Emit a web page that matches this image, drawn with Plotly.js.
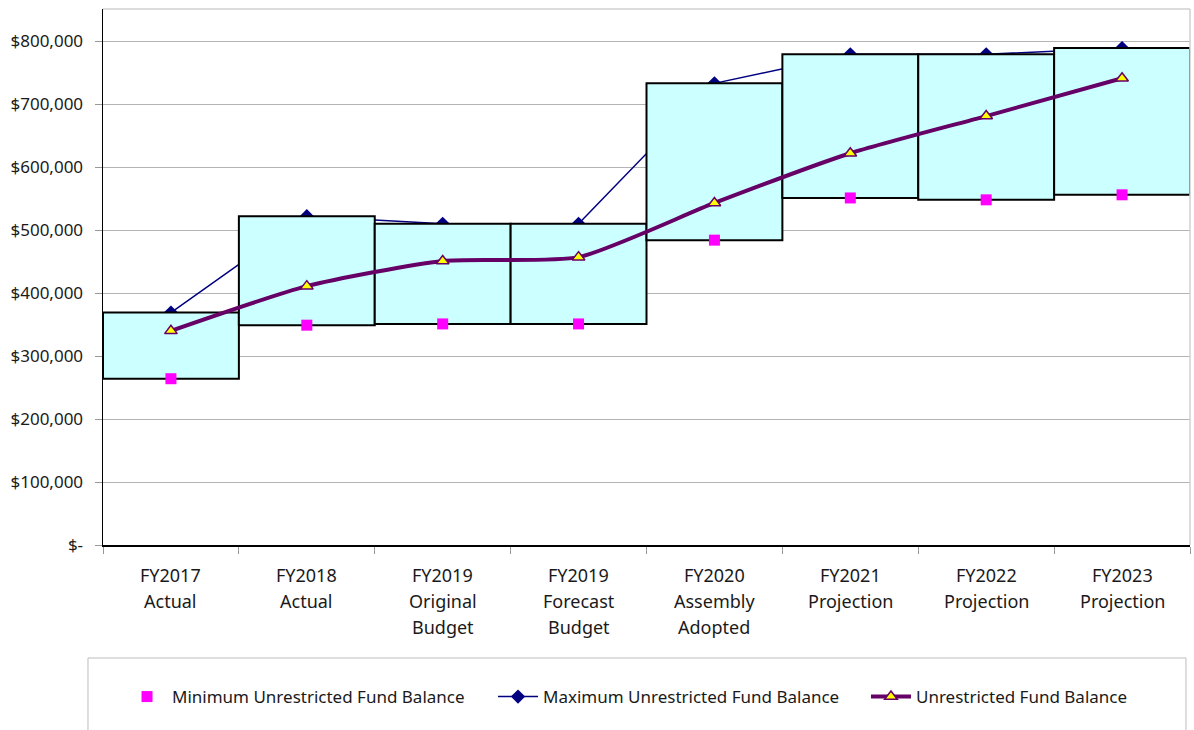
<!DOCTYPE html>
<html>
<head>
<meta charset="utf-8">
<script src="https://cdn.plot.ly/plotly-3.0.1.min.js"></script>
<style>html,body{margin:0;padding:0;background:#fff;}#chart{width:1194px;height:730px;}</style>
</head>
<body>
<div id="chart"></div>
<script>
const categories = ["FY2017<br>Actual","FY2018<br>Actual","FY2019<br>Original<br>Budget","FY2019<br>Forecast<br>Budget","FY2020<br>Assembly<br>Adopted","FY2021<br>Projection","FY2022<br>Projection","FY2023<br>Projection"];
const minBalance = [264000, 349000, 351000, 351000, 484000, 551000, 548000, 556000];
const maxBalance = [369000, 522000, 510000, 510000, 733000, 779000, 779000, 789000];
const fundBalance = [340000, 411000, 451000, 457000, 543000, 622000, 681000, 741000];
const yTickVals = [0,100000,200000,300000,400000,500000,600000,700000,800000];
const yTickText = ["$-","$100,000","$200,000","$300,000","$400,000","$500,000","$600,000","$700,000","$800,000"];

const boxHeights = maxBalance.map((v,i)=>v-minBalance[i]);
const font = "Noto Sans, Open Sans, sans-serif";

const data = [
  {type:'scatter', mode:'lines+markers', name:'Maximum Unrestricted Fund Balance', x:categories, y:maxBalance,
   xaxis:'x', yaxis:'y', legend:'legend2', line:{color:'#000080', width:1.5}, marker:{symbol:'diamond', size:11, color:'#000080'}},
  {type:'bar', x:categories, y:boxHeights, base:minBalance, xaxis:'x', yaxis:'y2', width:1, showlegend:false,
   marker:{color:'#CCFFFF', line:{color:'#000000', width:2}}, hoverinfo:'skip'},
  {type:'scatter', mode:'markers', name:'Minimum Unrestricted Fund Balance', x:categories, y:minBalance,
   xaxis:'x', yaxis:'y2', legend:'legend', marker:{symbol:'square', size:11, color:'#FF00FF'}},
  {type:'scatter', mode:'lines+markers', name:'Unrestricted Fund Balance', x:categories, y:fundBalance,
   xaxis:'x', yaxis:'y2', legend:'legend3', line:{color:'#660066', width:4, shape:'spline', smoothing:0.6},
   marker:{symbol:'triangle-up', size:11, color:'#FFFF00', line:{color:'#660066', width:1.5}}}
];

// category labels drawn line by line (Excel-like line spacing)
const labelShifts = [-30, -56, -82];
const annotations = [];
categories.forEach(function(c){
  c.split('<br>').forEach(function(line, j){
    annotations.push({xref:'x', yref:'paper', x:c, y:0, yanchor:'middle', xanchor:'center', yshift:labelShifts[j],
      text:line, showarrow:false, font:{family:font, size:18, color:'#1a1a1a'}});
  });
});

function legendAt(x){
  return {orientation:'h', x:x, xanchor:'left', y:-0.2836, yanchor:'middle', itemwidth:40,
          font:{family:font, size:17, color:'#1a1a1a'}, bgcolor:'rgba(0,0,0,0)', borderwidth:0};
}

const yrange = [0, 851000];
const layout = {
  width:1194, height:730,
  margin:{l:103, r:4, t:9, b:185},
  paper_bgcolor:'#fff', plot_bgcolor:'#fff',
  font:{family:font, size:17, color:'#1a1a1a'},
  showlegend:true,
  legend:legendAt(0.0175),
  legend2:legendAt(0.3588),
  legend3:legendAt(0.7019),
  xaxis:{type:'category', range:[-0.5,7.5], showgrid:false, showline:true, linecolor:'#000', linewidth:1.5,
         ticks:'outside', tickson:'boundaries', ticklen:7, tickcolor:'#999', tickwidth:1,
         showticklabels:false, zeroline:false},
  yaxis:{range:yrange, tickvals:yTickVals, ticktext:yTickText, showgrid:true, gridcolor:'#B4B4B4', gridwidth:1,
         showline:true, linecolor:'#000', linewidth:1.5, ticks:'outside', ticklen:7, tickcolor:'#999',
         ticklabelstandoff:8,
         tickfont:{family:font, size:17, color:'#1a1a1a'}, zeroline:false, fixedrange:true},
  yaxis2:{range:yrange, overlaying:'y', visible:false, showgrid:false, zeroline:false},
  bargap:0,
  annotations:annotations,
  shapes:[
    {type:'line', xref:'paper', yref:'paper', x0:0, x1:1, y0:1, y1:1, line:{color:'#D0D0D0', width:1.5}},
    {type:'line', xref:'paper', yref:'paper', x0:1, x1:1, y0:0, y1:1, line:{color:'#D0D0D0', width:1.5}},
    {type:'rect', xref:'paper', yref:'paper', x0:-0.0138, x1:0.9963, y0:-0.2108, y1:-0.40, line:{color:'#BDBDBD', width:1}, fillcolor:'rgba(0,0,0,0)'}
  ]
};

Plotly.newPlot('chart', data, layout, {displayModeBar:false, staticPlot:true});
</script>
</body>
</html>
